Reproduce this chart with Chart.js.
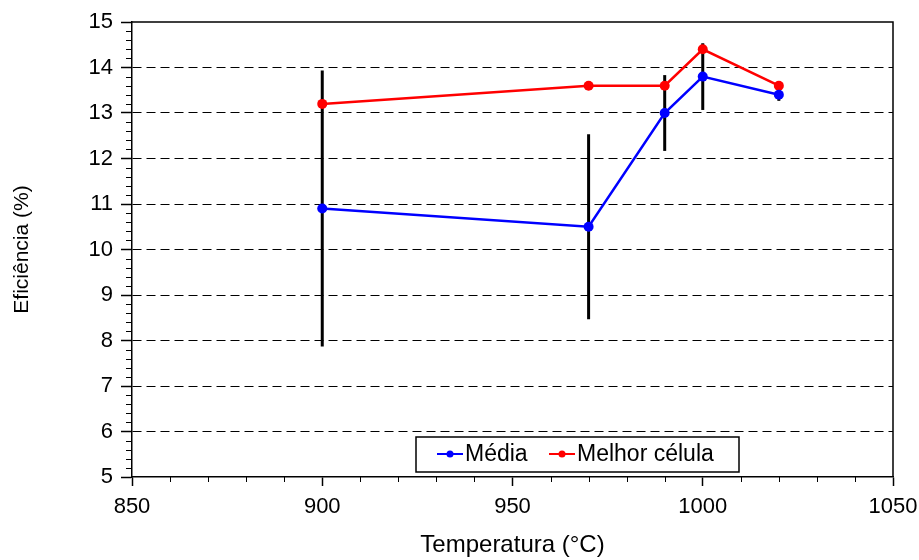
<!DOCTYPE html>
<html lang="pt">
<head>
    <meta charset="UTF-8">
    <title>Eficiência vs Temperatura</title>
    <script src="https://cdn.jsdelivr.net/npm/chart.js"></script>
    <style>
        body {
            margin: 0;
            padding: 0;
            background: #fff;
        }
        #wrap {
            width: 919px;
            height: 560px;
        }
    </style>
</head>
<body>
    <div id="wrap">
        <canvas id="effChart" width="919" height="560"></canvas>
    </div>

    <script>
        // dados
        const temperatures = [900, 970, 990, 1000, 1020];
        const mediaValues = [10.9, 10.5, 13.0, 13.8, 13.4];
        const mediaErrors = [3.0, 2.0, 0.8, 0.7, 0.1];
        const melhorValues = [13.2, 13.6, 13.6, 14.4, 13.6];
        const xTickValues = [850, 900, 950, 1000, 1050];
        const yTickValues = [5, 6, 7, 8, 9, 10, 11, 12, 13, 14, 15];
        const legendLabels = ["Média", "Melhor célula"];

        const FONT = "'Liberation Sans', Arial, sans-serif";

        // barras de erro, ticks menores, moldura e legenda
        const extras = {
            id: 'extras',
            beforeDatasetsDraw(chart) {
                const ctx = chart.ctx;
                const xs = chart.scales.x, ys = chart.scales.y;
                ctx.save();
                ctx.strokeStyle = '#000';
                ctx.lineWidth = 3;
                ctx.lineCap = 'square';
                temperatures.forEach((t, i) => {
                    const px = xs.getPixelForValue(t);
                    ctx.beginPath();
                    ctx.moveTo(px, ys.getPixelForValue(mediaValues[i] - mediaErrors[i]));
                    ctx.lineTo(px, ys.getPixelForValue(mediaValues[i] + mediaErrors[i]));
                    ctx.stroke();
                });
                ctx.restore();
            },
            afterDraw(chart) {
                const ctx = chart.ctx;
                const area = chart.chartArea;
                const xs = chart.scales.x, ys = chart.scales.y;
                ctx.save();
                ctx.strokeStyle = '#000';
                ctx.lineWidth = 1.5;
                // moldura superior e direita
                ctx.beginPath();
                ctx.moveTo(area.left, area.top);
                ctx.lineTo(area.right, area.top);
                ctx.lineTo(area.right, area.bottom);
                ctx.stroke();

                // ticks menores
                ctx.lineWidth = 1;
                ctx.beginPath();
                for (let v = xs.min; v <= xs.max; v += 10) {
                    if (v % 50 === 0) continue;
                    const px = Math.round(xs.getPixelForValue(v)) + 0.5;
                    ctx.moveTo(px, area.bottom);
                    ctx.lineTo(px, area.bottom + 5);
                }
                for (let k = 0; k <= (ys.max - ys.min) * 5; k++) {
                    if (k % 5 === 0) continue;
                    const py = Math.round(ys.getPixelForValue(ys.min + k * 0.2)) + 0.5;
                    ctx.moveTo(area.left, py);
                    ctx.lineTo(area.left - 6, py);
                }
                ctx.stroke();

                // legenda
                const lx = area.left + 284, ly = area.bottom - 40;
                ctx.fillStyle = '#fff';
                ctx.fillRect(lx, ly, 323, 35);
                ctx.lineWidth = 1.5;
                ctx.strokeRect(lx, ly, 323, 35);
                const colors = chart.data.datasets.map(d => d.borderColor);
                const offsets = [21, 133];
                ctx.font = '23px ' + FONT;
                ctx.textBaseline = 'middle';
                legendLabels.forEach((lab, i) => {
                    const sx = lx + offsets[i], sy = ly + 17;
                    ctx.strokeStyle = colors[i];
                    ctx.lineWidth = 2;
                    ctx.beginPath();
                    ctx.moveTo(sx, sy);
                    ctx.lineTo(sx + 26, sy);
                    ctx.stroke();
                    ctx.fillStyle = colors[i];
                    ctx.beginPath();
                    ctx.arc(sx + 13, sy, 3.5, 0, Math.PI * 2);
                    ctx.fill();
                    ctx.fillStyle = '#000';
                    ctx.fillText(lab, sx + 28, sy + 1);
                });
                ctx.restore();
            }
        };

        Chart.defaults.font.family = FONT;
        Chart.defaults.font.size = 22;
        Chart.defaults.color = '#000';

        new Chart(document.getElementById('effChart'), {
            type: 'line',
            data: {
                datasets: [{
                    label: legendLabels[0],
                    data: temperatures.map((t, i) => ({ x: t, y: mediaValues[i] })),
                    borderColor: '#0000ff',
                    backgroundColor: '#0000ff',
                    borderWidth: 2.5,
                    pointRadius: 5,
                    pointBorderWidth: 0,
                    tension: 0
                }, {
                    label: legendLabels[1],
                    data: temperatures.map((t, i) => ({ x: t, y: melhorValues[i] })),
                    borderColor: '#ff0000',
                    backgroundColor: '#ff0000',
                    borderWidth: 2.5,
                    pointRadius: 5,
                    pointBorderWidth: 0,
                    tension: 0
                }]
            },
            options: {
                responsive: false,
                animation: false,
                devicePixelRatio: 1,
                layout: { padding: { top: 22, right: 26, left: 0, bottom: 0 } },
                plugins: {
                    legend: { display: false },
                    tooltip: { enabled: false }
                },
                scales: {
                    x: {
                        type: 'linear',
                        min: xTickValues[0],
                        max: xTickValues[xTickValues.length - 1],
                        afterBuildTicks: s => { s.ticks = xTickValues.map(v => ({ value: v })); },
                        afterFit: s => { s.height = 83; s.paddingLeft = 0; s.paddingRight = 0; },
                        grid: {
                            drawOnChartArea: false,
                            tickLength: 9,
                            tickColor: '#000',
                            tickWidth: 1.5
                        },
                        border: { color: '#000', width: 1.5 },
                        ticks: { padding: 8, maxRotation: 0, callback: v => String(v) },
                        title: {
                            display: true,
                            text: 'Temperatura (°C)',
                            font: { size: 24 },
                            padding: { top: 0, bottom: 0 }
                        }
                    },
                    y: {
                        min: yTickValues[0],
                        max: yTickValues[yTickValues.length - 1],
                        afterBuildTicks: s => { s.ticks = yTickValues.map(v => ({ value: v })); },
                        afterFit: s => { s.width = 132; s.paddingTop = 0; s.paddingBottom = 0; },
                        grid: {
                            color: c => (c.tick && (c.tick.value === 5 || c.tick.value === 15)) ? 'rgba(0,0,0,0)' : '#000',
                            lineWidth: 1,
                            tickLength: 11,
                            tickColor: '#000',
                            tickWidth: 1.5,
                            tickBorderDash: []
                        },
                        border: { color: '#000', width: 1.5, dash: [9, 5] },
                        ticks: { padding: 8, callback: v => String(v) },
                        title: {
                            display: true,
                            text: 'Eficiência (%)',
                            font: { size: 21 },
                            padding: { top: 10, bottom: 0 }
                        }
                    }
                }
            },
            plugins: [extras]
        });
    </script>
</body>
</html>
